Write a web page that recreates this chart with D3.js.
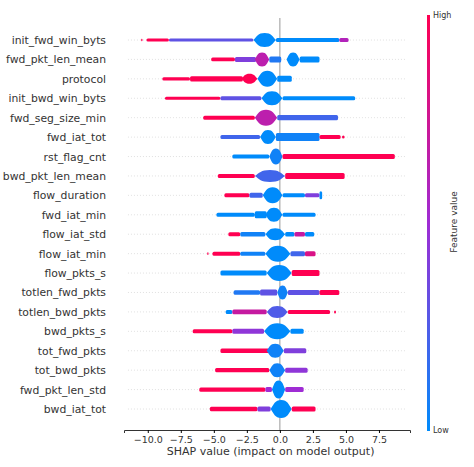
<!DOCTYPE html>
<html><head><meta charset="utf-8">
<script src="https://cdn.jsdelivr.net/npm/d3@7"></script>
<style>body{margin:0;background:#fff}text{font-family:"DejaVu Sans",sans-serif}</style>
</head><body><svg id="c" width="474" height="467"></svg>
<script>
const features = ["init_fwd_win_byts","fwd_pkt_len_mean","protocol","init_bwd_win_byts","fwd_seg_size_min","fwd_iat_tot","rst_flag_cnt","bwd_pkt_len_mean","flow_duration","fwd_iat_min","flow_iat_std","flow_iat_min","flow_pkts_s","totlen_fwd_pkts","totlen_bwd_pkts","bwd_pkts_s","tot_fwd_pkts","tot_bwd_pkts","fwd_pkt_len_std","bwd_iat_tot"];
// segments per feature: [from, to, halfHeight, colorValue(0 low..1 high), kind 'l' line / 'b' blob]
const segs = [
 [[-10.5,-10.4,1.2,1,'l'],[-10.1,-8.4,1.5,1,'l'],[-8.4,-2.0,1.6,0.3,'l'],[-2.0,-0.3,7,0,'b'],[-0.3,4.5,2,0,'l'],[4.5,5.2,2,0.6,'l']],
 [[-5.2,-3.4,1.8,1,'l'],[-3.4,-1.8,2.5,0.4,'l'],[-1.9,-0.8,7,0.65,'b'],[-0.8,0.1,3,0.1,'l'],[0.5,1.5,7,0,'b'],[1.5,3.0,3,0,'l']],
 [[-8.9,-6.8,1.6,1,'l'],[-6.8,-2.8,2.6,1,'l'],[-2.9,-1.7,5,1,'b'],[-1.7,-0.2,8,0,'b'],[-0.2,0.9,3,0,'l']],
 [[-8.7,-4.5,1.6,1,'l'],[-4.5,-1.4,2,0.3,'l'],[-1.4,0.2,7,0,'b'],[0.2,5.7,2,0,'l']],
 [[-5.8,-1.9,2,1,'l'],[-1.9,-0.2,8,0.65,'b'],[-0.2,4.4,2.6,0.2,'l']],
 [[-4.5,-1.5,2,0.2,'l'],[-1.5,-0.3,7,0,'b'],[-0.3,3.0,4,0.05,'l'],[3.0,4.6,2,1,'l'],[4.7,4.9,1.5,1,'l']],
 [[-3.6,-0.8,2,0,'l'],[-0.8,0.2,8,0.05,'b'],[0.2,8.7,2.5,1,'l']],
 [[-4.7,-1.9,2,1,'l'],[-1.9,0.4,6,0.2,'b'],[0.4,4.9,3,1,'l']],
 [[-4.2,-2.3,2,1,'l'],[-2.3,-1.3,2.5,0.2,'l'],[-1.3,0.2,8,0,'b'],[0.2,1.9,2,0,'l'],[1.9,3.0,2,0.4,'l'],[3.0,3.2,4,0,'l']],
 [[-4.8,-1.9,2,0,'l'],[-1.9,-1.0,3.5,0,'l'],[-1.1,0.2,7,0,'b'],[0.2,2.7,2,0,'l']],
 [[-3.9,-3.0,2,1,'l'],[-3.0,-1.1,2.3,0.05,'l'],[-1.1,0.4,6,0,'b'],[0.4,1.1,2.3,0,'l'],[1.1,1.9,2.3,0.7,'l'],[1.9,2.6,2.3,0,'l']],
 [[-5.5,-5.4,1.3,1,'l'],[-5.1,-3.0,2,1,'l'],[-3.0,-1.1,2,0.05,'l'],[-1.1,0.8,8,0,'b'],[0.8,1.9,2.5,0.2,'l'],[1.9,2.7,2.5,0.8,'l']],
 [[-4.5,-1.0,2.5,0,'l'],[-1.0,0.9,8,0,'b'],[0.9,3.0,3,1,'l']],
 [[-3.5,-1.5,2.3,0.1,'l'],[-1.5,-0.2,3,0.3,'l'],[-0.2,0.6,7,0.05,'b'],[0.6,3.0,2.5,0.3,'l'],[3.0,4.5,2.5,1,'l']],
 [[-4.1,-3.6,2,0,'l'],[-3.6,-1.0,2.3,0.7,'l'],[-1.0,0.6,6,0.25,'b'],[0.6,3.8,2,1,'l'],[4.1,4.25,1.5,1,'l']],
 [[-6.6,-3.6,2,1,'l'],[-3.6,-1.2,2.5,0.45,'l'],[-1.2,0.8,8,0,'b'],[0.8,1.8,2.5,0,'l']],
 [[-4.5,-0.8,2.2,1,'l'],[-1.0,0.3,7,0.05,'b'],[0.3,2.0,2.5,0.4,'l']],
 [[-4.9,-0.8,2.2,1,'l'],[-0.8,0.4,7,0.05,'b'],[0.4,2.1,2.5,0.45,'l']],
 [[-6.1,-1.1,2.2,1,'l'],[-1.1,-0.6,2.5,0.5,'l'],[-0.6,0.4,9,0,'b'],[0.4,1.8,2.5,0.5,'l']],
 [[-5.3,-1.7,2.2,1,'l'],[-1.7,-0.7,2.6,0.4,'l'],[-0.7,0.9,9,0,'b'],[0.9,2.7,2.4,1,'l']]
];
const ticks = [-10,-7.5,-5,-2.5,0,2.5,5,7.5];

const svg = d3.select("#c");
const x = d3.scaleLinear().domain([-11.8,9.85]).range([124,410]);
const y = d3.scalePoint().domain(features).range([40,409]);
const col = d3.scaleLinear().domain([0,0.5,1]).range(["#008bfb","#9f2cd4","#ff0052"]).interpolate(d3.interpolateRgb);

svg.append("g").selectAll("line").data(features).join("line")
 .attr("x1",x(-11.5)).attr("x2",x(9.6)).attr("y1",d=>y(d)).attr("y2",d=>y(d))
 .attr("stroke","#ccc").attr("stroke-width",0.6).attr("stroke-dasharray","1,2");
svg.append("line").attr("x1",x(0)).attr("x2",x(0)).attr("y1",18).attr("y2",430).attr("stroke","#999").attr("stroke-width",1);

features.forEach((f,i)=>{
  const g = svg.append("g");
  const cy = y(f);
  segs[i].forEach(s=>{
    const [a,b,h,c,k]=s;
    if(k==='l'){
      g.append("rect").attr("x",x(a)).attr("y",cy-h).attr("width",Math.max(1,x(b)-x(a))).attr("height",2*h)
       .attr("rx",Math.min(h,1.5)).attr("fill",col(c));
    } else {
      const x0=x(a),x1=x(b),xm=(x0+x1)/2,w=(x1-x0)/2;
      const p=`M${x0},${cy} C${x0+w*0.3},${cy-h*0.5} ${xm-w*0.6},${cy-h} ${xm},${cy-h} C${xm+w*0.6},${cy-h} ${x1-w*0.3},${cy-h*0.5} ${x1},${cy} C${x1-w*0.3},${cy+h*0.5} ${xm+w*0.6},${cy+h} ${xm},${cy+h} C${xm-w*0.6},${cy+h} ${x0+w*0.3},${cy+h*0.5} ${x0},${cy}Z`;
      g.append("path").attr("d",p).attr("fill",col(c));
    }
  });
});

svg.append("g").selectAll("text").data(features).join("text")
 .attr("x",106).attr("y",d=>y(d)+4).attr("text-anchor","end").attr("font-size",10.8).attr("fill","#333").text(d=>d);

const ax = svg.append("g").attr("transform","translate(0,430)")
 .call(d3.axisBottom(x).tickValues(ticks).tickSize(3).tickFormat(d=>d3.format(".1f")(d).replace("-","\u2212")));
ax.select(".domain").attr("stroke","#333");
ax.selectAll("text").attr("font-size",9.5).attr("fill","#333").attr("font-family","DejaVu Sans");
svg.append("text").attr("x",x(-0.7)).attr("y",455).attr("text-anchor","middle").attr("font-size",11).attr("fill","#333").text("SHAP value (impact on model output)");

const defs=svg.append("defs");
const lg=defs.append("linearGradient").attr("id","cb").attr("x1",0).attr("x2",0).attr("y1",1).attr("y2",0);
[0,0.25,0.5,0.75,1].forEach(t=>lg.append("stop").attr("offset",t).attr("stop-color",col(t)));
svg.append("rect").attr("x",427).attr("y",15).attr("width",3).attr("height",416).attr("fill","url(#cb)");
svg.append("text").attr("x",433).attr("y",18).attr("font-size",8).attr("fill","#333").text("High");
svg.append("text").attr("x",433).attr("y",433).attr("font-size",8).attr("fill","#333").text("Low");
svg.append("text").attr("transform","translate(457,222) rotate(-90)").attr("text-anchor","middle").attr("font-size",9).attr("fill","#333").text("Feature value");
</script></body></html>
